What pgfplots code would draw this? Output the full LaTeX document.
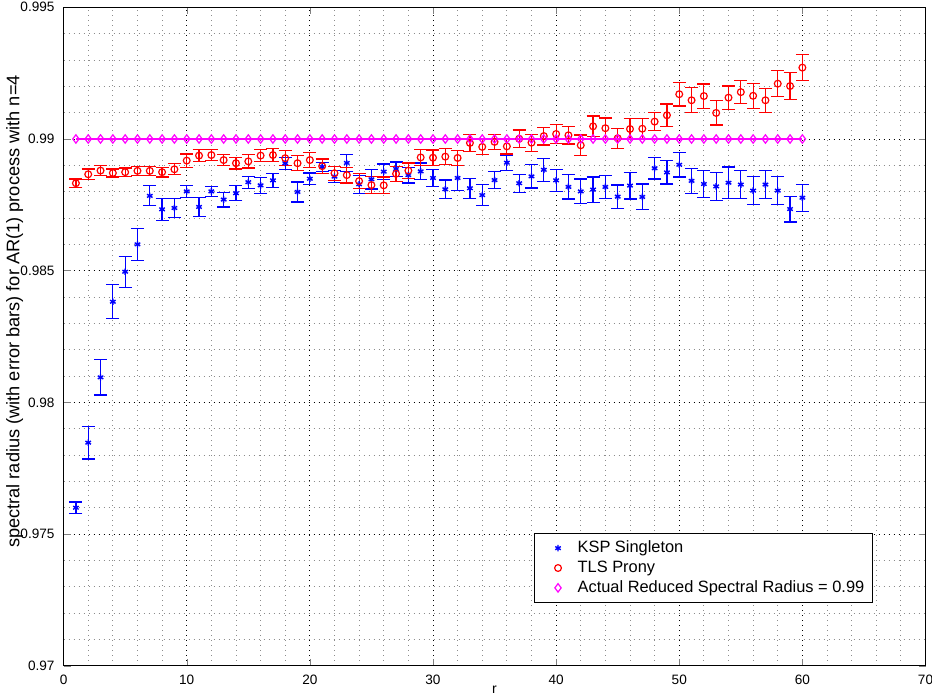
\documentclass[border=0pt]{standalone}
\usepackage{fontspec}
\setmainfont{Liberation Sans}
\usepackage{pgfplots}
\pgfplotsset{compat=1.18}
\usepackage{pgfplotstable}

\definecolor{ksp}{rgb}{0,0,1}
\definecolor{tls}{rgb}{1,0,0}
\definecolor{act}{rgb}{1,0,1}

% KSP Singleton estimates: r, mean, half-width of error bar
\pgfplotstableread{
x y e
1 0.97600 0.00022
2 0.97847 0.00062
3 0.98095 0.00067
4 0.98382 0.00065
5 0.98496 0.00059
6 0.98600 0.00060
7 0.98784 0.00038
8 0.98733 0.00042
9 0.98738 0.00035
10 0.98801 0.00022
11 0.98742 0.00036
12 0.98801 0.00020
13 0.98770 0.00028
14 0.98794 0.00028
15 0.98836 0.00023
16 0.98824 0.00030
17 0.98843 0.00027
18 0.98908 0.00023
19 0.98799 0.00038
20 0.98849 0.00022
21 0.98894 0.00018
22 0.98857 0.00023
23 0.98909 0.00032
24 0.98828 0.00034
25 0.98847 0.00037
26 0.98876 0.00029
27 0.98886 0.00027
28 0.98863 0.00030
29 0.98877 0.00032
30 0.98852 0.00032
31 0.98809 0.00035
32 0.98852 0.00047
33 0.98813 0.00038
34 0.98787 0.00040
35 0.98844 0.00033
36 0.98910 0.00029
37 0.98832 0.00034
38 0.98858 0.00044
39 0.98883 0.00043
40 0.98843 0.00042
41 0.98818 0.00046
42 0.98801 0.00047
43 0.98808 0.00048
44 0.98818 0.00044
45 0.98781 0.00044
46 0.98823 0.00051
47 0.98780 0.00049
48 0.98889 0.00041
49 0.98873 0.00044
50 0.98902 0.00046
51 0.98841 0.00047
52 0.98829 0.00050
53 0.98820 0.00053
54 0.98834 0.00060
55 0.98827 0.00053
56 0.98804 0.00053
57 0.98827 0.00054
58 0.98804 0.00054
59 0.98734 0.00049
60 0.98777 0.00051
}\kspdata

% TLS Prony estimates: r, mean, half-width of error bar
\pgfplotstableread{
x y e
1 0.98832 0.00016
2 0.98866 0.00020
3 0.98880 0.00018
4 0.98871 0.00015
5 0.98874 0.00016
6 0.98879 0.00017
7 0.98879 0.00017
8 0.98874 0.00018
9 0.98885 0.00021
10 0.98918 0.00025
11 0.98937 0.00023
12 0.98939 0.00022
13 0.98920 0.00022
14 0.98908 0.00022
15 0.98915 0.00025
16 0.98937 0.00023
17 0.98939 0.00024
18 0.98927 0.00028
19 0.98908 0.00028
20 0.98920 0.00029
21 0.98897 0.00027
22 0.98870 0.00027
23 0.98863 0.00030
24 0.98840 0.00028
25 0.98825 0.00032
26 0.98824 0.00032
27 0.98868 0.00028
28 0.98880 0.00029
29 0.98930 0.00030
30 0.98929 0.00029
31 0.98933 0.00030
32 0.98928 0.00029
33 0.98985 0.00032
34 0.98970 0.00028
35 0.98989 0.00028
36 0.98972 0.00029
37 0.99001 0.00033
38 0.98986 0.00032
39 0.99011 0.00034
40 0.99019 0.00037
41 0.99014 0.00033
42 0.98976 0.00039
43 0.99048 0.00039
44 0.99041 0.00039
45 0.99003 0.00038
46 0.99038 0.00039
47 0.99039 0.00039
48 0.99066 0.00035
49 0.99090 0.00043
50 0.99170 0.00045
51 0.99147 0.00047
52 0.99163 0.00046
53 0.99099 0.00046
54 0.99157 0.00044
55 0.99178 0.00043
56 0.99164 0.00047
57 0.99147 0.00046
58 0.99210 0.00049
59 0.99201 0.00050
60 0.99271 0.00049
}\tlsdata

% Actual reduced spectral radius
\pgfplotstableread{
x y
1 0.99
2 0.99
3 0.99
4 0.99
5 0.99
6 0.99
7 0.99
8 0.99
9 0.99
10 0.99
11 0.99
12 0.99
13 0.99
14 0.99
15 0.99
16 0.99
17 0.99
18 0.99
19 0.99
20 0.99
21 0.99
22 0.99
23 0.99
24 0.99
25 0.99
26 0.99
27 0.99
28 0.99
29 0.99
30 0.99
31 0.99
32 0.99
33 0.99
34 0.99
35 0.99
36 0.99
37 0.99
38 0.99
39 0.99
40 0.99
41 0.99
42 0.99
43 0.99
44 0.99
45 0.99
46 0.99
47 0.99
48 0.99
49 0.99
50 0.99
51 0.99
52 0.99
53 0.99
54 0.99
55 0.99
56 0.99
57 0.99
58 0.99
59 0.99
60 0.99
}\actdata

\begin{document}
\begin{tikzpicture}
\begin{axis}[
  name=ax,
  scale only axis,
  width=431pt, height=329.25pt,
  xmin=0, xmax=70, ymin=0.97, ymax=0.995,
  xtick={0,10,...,70},
  ytick={0.97,0.975,0.98,0.985,0.99,0.995},
  yticklabels={0.97,0.975,0.98,0.985,0.99,0.995},
  minor x tick num=4,
  minor y tick num=4,
  grid=both,
  major grid style={black, line width=0.4pt, dash pattern=on 0.6pt off 1.9pt},
  minor grid style={black!45, line width=0.4pt, dash pattern=on 0.6pt off 1.9pt},
  tick align=inside,
  major tick length=3.5pt,
  minor tick length=0pt,
  axis line style={black, line width=0.6pt},
  /pgf/number format/assume math mode=true,
  tick label style={font=\fontsize{6.8}{7.8}\selectfont},
  xticklabel style={yshift=-1.2pt},
  yticklabel style={xshift=-1pt},
  xlabel={r},
  xlabel style={at={(axis description cs:0.5,-0.037)}, anchor=center, font=\fontsize{7}{8}\selectfont},
  ylabel={spectral radius (with error bars) for AR(1) process with n=4},
  ylabel style={at={(axis description cs:-0.0568,0.538)}, anchor=center, font=\fontsize{9.1}{11}\selectfont},
  legend style={at={(0.939,0.0954)}, anchor=south east, draw=black, line width=0.6pt,
    font=\fontsize{8.2}{9.8}\selectfont, inner xsep=2pt, inner ysep=1.5pt,
    row sep=-1.4pt, fill=white},
  legend cell align=left,
  legend image code/.code={%
    \path (0pt,0pt) (17pt,0pt);
    \draw[#1] plot coordinates {(9.5pt,0pt)};},
]
\addplot[ksp, only marks, mark=asterisk, mark size=1.6pt, mark options={line width=0.7pt},
  error bars/.cd, y dir=both, y explicit,
  error bar style={line width=0.6pt},
  error mark options={rotate=90, mark size=3.25pt, line width=0.6pt}]
  table[x=x, y=y, y error=e]{\kspdata};
\addlegendentry{KSP Singleton}
\addplot[tls, only marks, mark=o, mark size=1.7pt, mark options={line width=0.6pt},
  error bars/.cd, y dir=both, y explicit,
  error bar style={line width=0.6pt},
  error mark options={rotate=90, mark size=3.25pt, line width=0.6pt}]
  table[x=x, y=y, y error=e]{\tlsdata};
\addlegendentry{TLS Prony}
\addplot[act, line width=1pt, forget plot] table[x=x, y=y]{\actdata};
\addplot[act, only marks, mark=diamond, mark size=2.1pt, mark options={line width=0.6pt}]
  table[x=x, y=y]{\actdata};
\addlegendentry{Actual Reduced Spectral Radius = 0.99}
\end{axis}
\pgfresetboundingbox
\path ([shift={(-31.8pt,-15.1pt)}]ax.south west) rectangle ([shift={(3.25pt,3.65pt)}]ax.north east);
\end{tikzpicture}
\end{document}
